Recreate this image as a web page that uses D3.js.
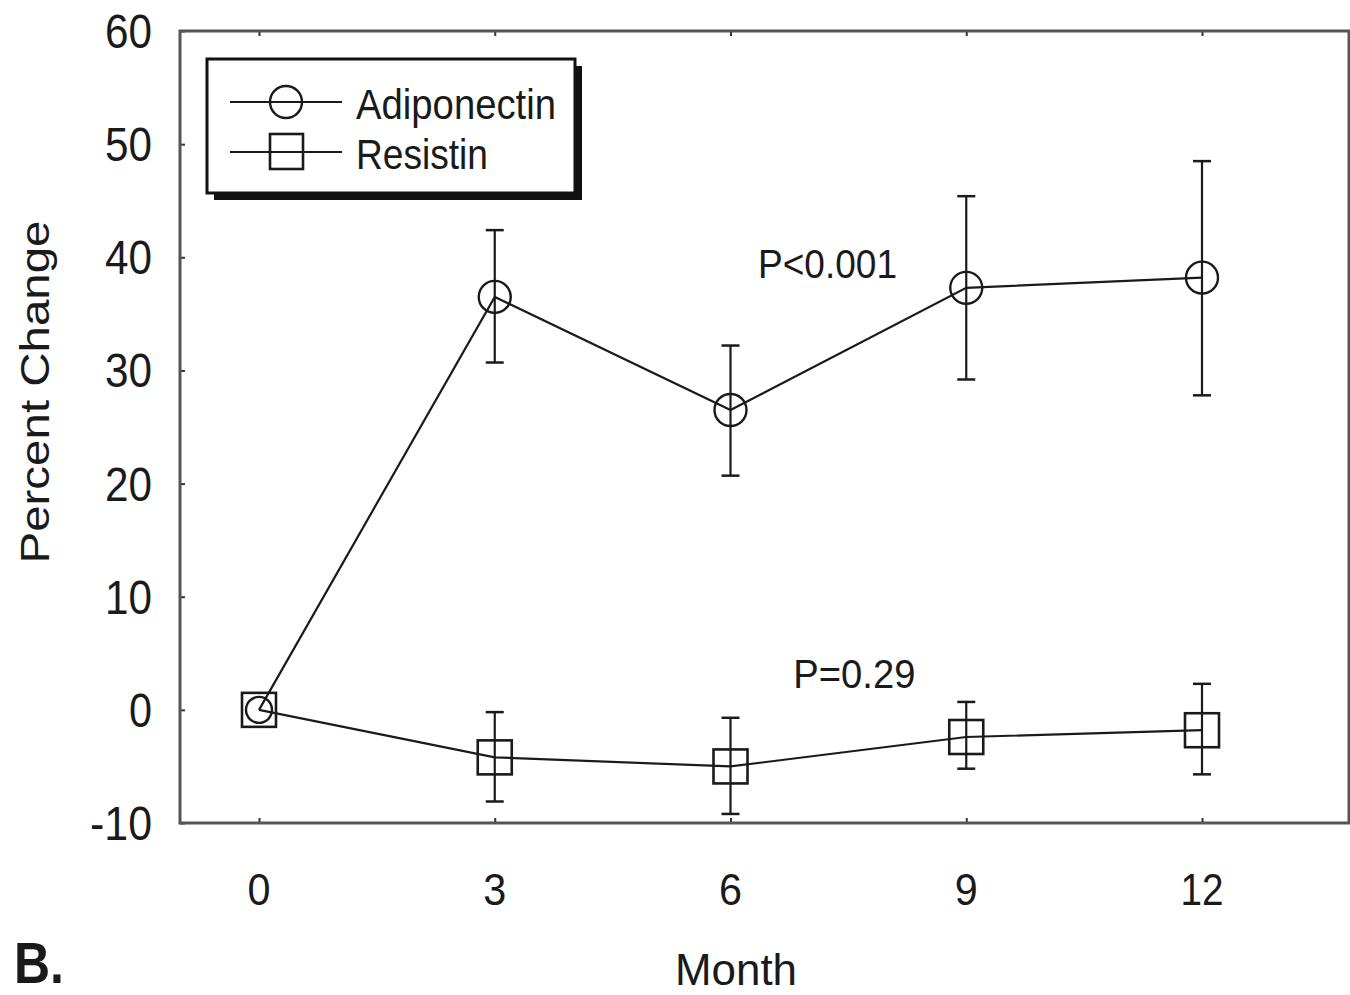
<!DOCTYPE html>
<html>
<head>
<meta charset="utf-8">
<script src="https://cdn.jsdelivr.net/npm/d3@7"></script>
<style>
  html, body { margin: 0; padding: 0; background: #fff; }
  svg { display: block; }
  text { font-family: "Liberation Sans", Arial, Helvetica, sans-serif; fill: #1a1a1a; }
</style>
</head>
<body>
<svg id="chart" width="1350" height="995"></svg>
<script>
// Study visits (months) and percent change from baseline
const months = [0, 3, 6, 9, 12];
const adiponectin = [0, 36.5, 26.5, 37.3, 38.2];
const adiponectinLow = [null, 30.7, 20.7, 29.2, 27.8];
const adiponectinHigh = [null, 42.4, 32.2, 45.4, 48.5];
const resistin = [0, -4.2, -5.0, -2.4, -1.8];
const resistinLow = [null, -8.1, -9.2, -5.2, -5.7];
const resistinHigh = [null, -0.2, -0.7, 0.7, 2.3];
const yTicks = [-10, 0, 10, 20, 30, 40, 50, 60];
const seriesNames = ["Adiponectin", "Resistin"];
const pLabels = ["P<0.001", "P=0.29"];
const pLabelPos = [{ m: 6.35, v: 38.2 }, { m: 6.8, v: 1.95 }];

const svg = d3.select("#chart");
const ink = "#1a1a1a";

// Plot frame
const frame = { left: 180, right: 1349, top: 31, bottom: 823 };
const x = d3.scaleLinear().domain([0, 12]).range([259, 1202]);
const y = d3.scaleLinear().domain([-10, 60]).range([frame.bottom, frame.top]);

// Text helper: size by glyph height, fit to a given width
function label(g, str, px, py, size, width, opts = {}) {
  const t = g.append("text")
    .attr("x", px).attr("y", py)
    .attr("font-size", size)
    .attr("text-anchor", opts.anchor || "start")
    .attr("font-weight", opts.weight || "normal")
    .text(str);
  if (width) t.attr("textLength", width).attr("lengthAdjust", "spacingAndGlyphs");
  if (opts.transform) t.attr("transform", opts.transform);
  return t;
}

// Axes (inward ticks, no domain line — the frame draws the edges)
const gx = svg.append("g").attr("transform", `translate(0,${frame.bottom})`)
  .call(d3.axisBottom(x).tickValues(months).tickSize(-5).tickFormat(""));
const gxTop = svg.append("g").attr("transform", `translate(0,${frame.top})`)
  .call(d3.axisTop(x).tickValues(months).tickSize(-5).tickFormat(""));
const gy = svg.append("g").attr("transform", `translate(${frame.left},0)`)
  .call(d3.axisLeft(y).tickValues(yTicks).tickSize(-5).tickFormat(""));
[gx, gxTop, gy].forEach(g => {
  g.select(".domain").remove();
  g.selectAll(".tick line").attr("stroke", "#333").attr("stroke-width", 2);
});

// Frame
svg.append("rect")
  .attr("x", frame.left).attr("y", frame.top)
  .attr("width", frame.right - frame.left).attr("height", frame.bottom - frame.top)
  .attr("fill", "none").attr("stroke", "#555").attr("stroke-width", 3);

// Tick labels
const tl = svg.append("g");
yTicks.forEach(v => {
  const s = String(v);
  const w = s.length === 1 ? 23 : (s.startsWith("-") ? 62 : 47);
  label(tl, s, 152, y(v) + 17, 48, w, { anchor: "end" });
});
months.forEach(m => {
  const s = String(m);
  label(tl, s, x(m), 905, 45, s.length === 1 ? 23 : 43, { anchor: "middle" });
});

// Axis titles and panel letter
label(svg, "Month", 736, 985, 45, 122, { anchor: "middle" });
label(svg, "Percent Change", 0, 0, 41, 343,
  { anchor: "middle", transform: "translate(49,392) rotate(-90)" });
label(svg, "B.", 14, 983, 58, 50, { weight: "bold" });

// Series
const line = d3.line().x(d => x(d.m)).y(d => y(d.v));
function drawSeries(vals, lo, hi, shape) {
  const pts = months.map((m, i) => ({ m, v: vals[i], lo: lo[i], hi: hi[i] }));
  const g = svg.append("g");
  g.append("path").datum(pts).attr("d", line)
    .attr("fill", "none").attr("stroke", ink).attr("stroke-width", 2.2);
  const eb = pts.filter(d => d.lo !== null);
  g.selectAll(".eb").data(eb).enter().append("line")
    .attr("x1", d => x(d.m)).attr("x2", d => x(d.m))
    .attr("y1", d => y(d.lo)).attr("y2", d => y(d.hi))
    .attr("stroke", ink).attr("stroke-width", 2.2);
  ["lo", "hi"].forEach(k => {
    g.selectAll(".cap-" + k).data(eb).enter().append("line")
      .attr("x1", d => x(d.m) - 9).attr("x2", d => x(d.m) + 9)
      .attr("y1", d => y(d[k])).attr("y2", d => y(d[k]))
      .attr("stroke", ink).attr("stroke-width", 2.5);
  });
  if (shape === "circle") {
    g.selectAll(".mk").data(pts).enter().append("circle")
      .attr("cx", d => x(d.m)).attr("cy", d => y(d.v)).attr("r", d => d.m === 0 ? 13 : 16)
      .attr("fill", "none").attr("stroke", ink).attr("stroke-width", 2.4);
  } else {
    g.selectAll(".mk").data(pts).enter().append("rect")
      .attr("x", d => x(d.m) - 17).attr("y", d => y(d.v) - 17)
      .attr("width", 34).attr("height", 34)
      .attr("fill", "none").attr("stroke", ink).attr("stroke-width", 2.6);
  }
}
drawSeries(adiponectin, adiponectinLow, adiponectinHigh, "circle");
drawSeries(resistin, resistinLow, resistinHigh, "square");

// Significance labels
label(svg, pLabels[0], x(pLabelPos[0].m), y(pLabelPos[0].v), 40, 139, {});
label(svg, pLabels[1], x(pLabelPos[1].m), y(pLabelPos[1].v), 40, 122, {});

// Legend with drop shadow
const lg = svg.append("g");
lg.append("rect").attr("x", 214).attr("y", 66).attr("width", 368).attr("height", 134).attr("fill", "#111");
lg.append("rect").attr("x", 207).attr("y", 59).attr("width", 368).attr("height", 134)
  .attr("fill", "#fff").attr("stroke", "#111").attr("stroke-width", 3);
const rows = [102, 152];
rows.forEach((ry, i) => {
  lg.append("line").attr("x1", 230).attr("x2", 342).attr("y1", ry).attr("y2", ry)
    .attr("stroke", ink).attr("stroke-width", 2.2);
  if (i === 0) {
    lg.append("circle").attr("cx", 286).attr("cy", ry).attr("r", 16)
      .attr("fill", "none").attr("stroke", ink).attr("stroke-width", 2.4);
  } else {
    lg.append("rect").attr("x", 270).attr("y", ry - 18).attr("width", 33).attr("height", 35)
      .attr("fill", "none").attr("stroke", ink).attr("stroke-width", 2.6);
  }
  label(lg, seriesNames[i], 356, ry + 17, 42, i === 0 ? 200 : 132, {});
});
</script>
</body>
</html>
